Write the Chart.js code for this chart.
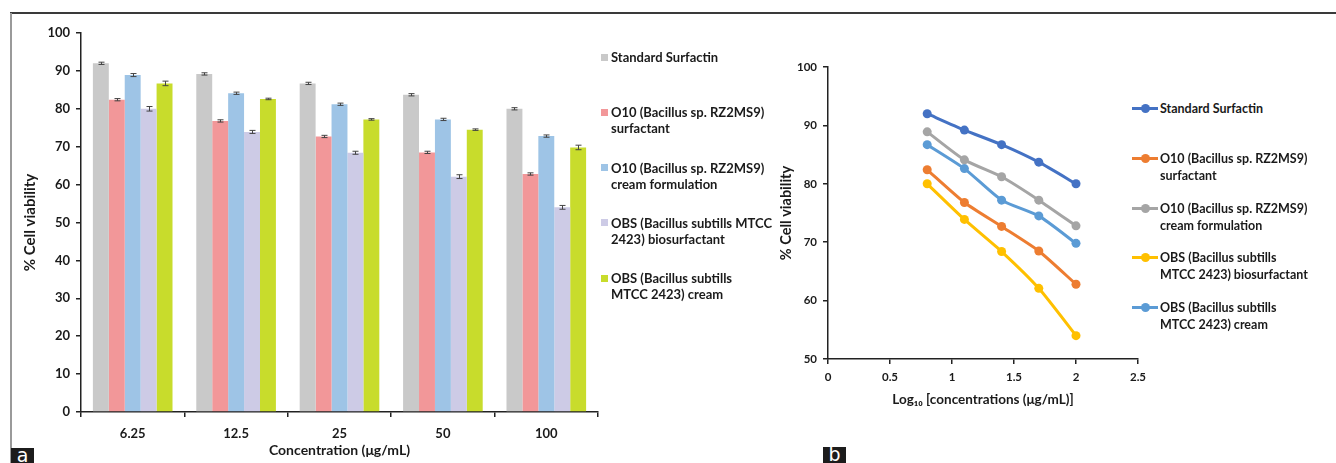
<!DOCTYPE html>
<html>
<head>
<meta charset="utf-8">
<script src="https://cdn.jsdelivr.net/npm/chart.js"></script>
<style>
    body { margin: 0; background: #fff; width: 1336px; height: 463px; overflow: hidden; position: relative; font-family: Lato, "Open Sans", sans-serif; color: #1a1a1a; }
    #wrapA { position: absolute; left: 0; top: 0; width: 620px; height: 463px; }
    #wrapB { position: absolute; left: 760px; top: 0; width: 400px; height: 463px; }
    .frame-top { position: absolute; left: 10px; top: 12px; width: 1326px; height: 2px; background: #3a3a3a; }
    .frame-left { position: absolute; left: 10px; top: 13px; width: 2px; height: 450px; background: #9a9a9a; }
    .tag { position: absolute; width: 23px; height: 16px; background: #1c1c1c; color: #fff; font: 19px "DejaVu Sans", sans-serif; line-height: 14px; text-align: center; overflow: hidden; }
    .leg { position: absolute; font-weight: bold; white-space: nowrap; }
    .leg .sw { position: absolute; width: 7px; height: 7px; }
    .leg .ln { position: absolute; width: 26px; height: 3px; }
    .leg .dot { position: absolute; width: 9px; height: 9px; border-radius: 50%; }
</style>
</head>
<body>
<div class="frame-top"></div>
<div class="frame-left"></div>
<div id="wrapA"><canvas id="barChart"></canvas></div>
<div id="wrapB"><canvas id="lineChart"></canvas></div>
<div class="tag" style="left:11px;top:448px">a</div>
<div class="tag" style="left:823px;top:447px">b</div>
<div id="legendA"></div>
<div id="legendB"></div>

<script>
// Data
const concentrations = ['6.25', '12.5', '25', '50', '100'];
const logConc = [0.80, 1.10, 1.40, 1.70, 2.00];

const seriesNames = [
    'Standard Surfactin',
    'O10 (Bacillus sp. RZ2MS9) surfactant',
    'O10 (Bacillus sp. RZ2MS9) cream formulation',
    'OBS (Bacillus subtills MTCC 2423) biosurfactant',
    'OBS (Bacillus subtills MTCC 2423) cream'
];

const standardSurfactin = [92.0, 89.2, 86.7, 83.7, 80.0];
const o10Surfactant = [82.4, 76.8, 72.7, 68.5, 62.8];
const o10Cream = [88.9, 84.1, 81.2, 77.2, 72.8];
const obsBiosurfactant = [80.0, 73.9, 68.4, 62.1, 54.0];
const obsCream = [86.7, 82.6, 77.2, 74.5, 69.8];

const errStandard = [0.3, 0.3, 0.3, 0.3, 0.3];
const errO10Surf = [0.3, 0.3, 0.3, 0.3, 0.3];
const errO10Cream = [0.4, 0.3, 0.3, 0.3, 0.3];
const errObsBio = [0.6, 0.4, 0.4, 0.5, 0.5];
const errObsCream = [0.6, 0.2, 0.2, 0.2, 0.6];

const yTicksA = { min: 0, max: 100, step: 10 };
const yTicksB = { min: 50, max: 100, step: 10 };
const xTicksB = { min: 0, max: 2.5, step: 0.5 };

// legend line breaks differ between panels
const legendLinesA = [
    ['Standard Surfactin'],
    ['O10 (Bacillus sp. RZ2MS9)', 'surfactant'],
    ['O10 (Bacillus sp. RZ2MS9)', 'cream formulation'],
    ['OBS (Bacillus subtills MTCC', '2423) biosurfactant'],
    ['OBS (Bacillus subtills', 'MTCC 2423) cream']
];
const legendLinesB = [
    ['Standard Surfactin'],
    ['O10 (Bacillus sp. RZ2MS9)', 'surfactant'],
    ['O10 (Bacillus sp. RZ2MS9)', 'cream formulation'],
    ['OBS (Bacillus subtills', 'MTCC 2423) biosurfactant'],
    ['OBS (Bacillus subtills', 'MTCC 2423) cream']
];

const allValues = [standardSurfactin, o10Surfactant, o10Cream, obsBiosurfactant, obsCream];
const allErrors = [errStandard, errO10Surf, errO10Cream, errObsBio, errObsCream];

const barColors = ['#c9c9c9', '#f29799', '#9ec4e6', '#cdcbe6', '#c8dc2c'];
const lineColors = ['#4472c4', '#ed7d31', '#a5a5a5', '#ffc000', '#5b9bd5'];

const FONT = 'Lato, "Open Sans", sans-serif';
const INK = '#1a1a1a';
const AXIS = '#222';

// Error bars drawn on top of the bars
const errorBarPlugin = {
    id: 'errorBars',
    afterDatasetsDraw(chart) {
        const ctx = chart.ctx;
        const yScale = chart.scales.y;
        ctx.save();
        ctx.strokeStyle = '#444';
        ctx.lineWidth = 1;
        chart.data.datasets.forEach((ds, di) => {
            const meta = chart.getDatasetMeta(di);
            meta.data.forEach((bar, i) => {
                const err = ds.errors[i];
                const top = yScale.getPixelForValue(ds.data[i] + err);
                const bot = yScale.getPixelForValue(ds.data[i] - err);
                const x = Math.round(bar.x) + 0.5;
                ctx.beginPath();
                ctx.moveTo(x, top); ctx.lineTo(x, bot);
                ctx.moveTo(x - 3, top); ctx.lineTo(x + 3, top);
                ctx.moveTo(x - 3, bot); ctx.lineTo(x + 3, bot);
                ctx.stroke();
            });
        });
        ctx.restore();
    }
};

function axisStyle() {
    return {
        grid: { drawOnChartArea: false, color: AXIS, tickLength: 5, lineWidth: 1.5 },
        border: { color: AXIS, width: 1.5 }
    };
}

// Panel a: grouped bars
new Chart(document.getElementById('barChart'), {
    type: 'bar',
    data: {
        labels: concentrations,
        datasets: allValues.map((vals, i) => ({
            label: seriesNames[i],
            data: vals,
            errors: allErrors[i],
            backgroundColor: barColors[i],
            categoryPercentage: 0.77,
            barPercentage: 1.0
        }))
    },
    options: {
        responsive: true,
        maintainAspectRatio: false,
        animation: false,
        layout: { padding: { top: 33, right: 22, left: 0, bottom: 0 } },
        plugins: { legend: { display: false }, tooltip: { enabled: false } },
        scales: {
            x: {
                ...axisStyle(),
                ticks: { color: INK, padding: 9, font: { family: FONT, size: 13, weight: 'bold' } },
                title: { display: true, text: 'Concentration (μg/mL)', color: INK, padding: { top: 0, bottom: 4.5 }, font: { family: FONT, size: 14, weight: 'bold' } },
                afterFit(scale) { scale.height = 51; }
            },
            y: {
                ...axisStyle(),
                min: yTicksA.min,
                max: yTicksA.max,
                ticks: { stepSize: yTicksA.step, color: INK, padding: 6, font: { family: FONT, size: 13, weight: 'bold' } },
                title: { display: true, text: '% Cell viability', color: INK, padding: { top: 21, bottom: 0 }, font: { family: FONT, size: 15, weight: 'bold' } },
                afterFit(scale) { scale.width = 81; }
            }
        }
    },
    plugins: [errorBarPlugin]
});

// Panel b: log concentration vs viability
new Chart(document.getElementById('lineChart'), {
    type: 'line',
    data: {
        datasets: allValues.map((vals, i) => ({
            label: seriesNames[i],
            data: vals.map((v, j) => ({ x: logConc[j], y: v })),
            borderColor: lineColors[i],
            backgroundColor: lineColors[i],
            borderWidth: 3,
            pointRadius: 4.5,
            pointBorderWidth: 0,
            tension: 0.2
        }))
    },
    options: {
        responsive: true,
        maintainAspectRatio: false,
        animation: false,
        layout: { padding: { top: 67, right: 22, left: 0, bottom: 54 } },
        plugins: { legend: { display: false }, tooltip: { enabled: false } },
        scales: {
            x: {
                ...axisStyle(),
                type: 'linear',
                min: xTicksB.min,
                max: xTicksB.max,
                ticks: {
                    stepSize: xTicksB.step, color: INK, padding: 6,
                    font: { family: FONT, size: 11.5, weight: 'bold' },
                    callback: v => String(Math.round(v * 10) / 10)
                },
                title: { display: true, text: 'Log₁₀ [concentrations (μg/mL)]', color: INK, padding: { top: 0, bottom: 1 }, font: { family: FONT, size: 13.5, weight: 'bold' } },
                afterFit(scale) { scale.height = 50; }
            },
            y: {
                ...axisStyle(),
                min: yTicksB.min,
                max: yTicksB.max,
                ticks: { stepSize: yTicksB.step, color: INK, padding: 6, font: { family: FONT, size: 11.5, weight: 'bold' } },
                title: { display: true, text: '% Cell viability', color: INK, padding: { top: 18, bottom: 0 }, font: { family: FONT, size: 14.5, weight: 'bold' } },
                afterFit(scale) { scale.width = 68; }
            }
        }
    }
});

// HTML legends
function buildLegend(containerId, lines, opts) {
    const box = document.getElementById(containerId);
    lines.forEach((entry, i) => {
        const el = document.createElement('div');
        el.className = 'leg';
        const top = opts.top + i * opts.step;
        el.style.left = opts.textX + 'px';
        el.style.top = top + 'px';
        el.style.fontSize = opts.size + 'px';
        el.style.lineHeight = opts.lh + 'px';
        el.innerHTML = entry.join('<br>');
        const mid = opts.lh / 2;
        if (opts.kind === 'square') {
            const sw = document.createElement('span');
            sw.className = 'sw';
            sw.style.background = opts.colors[i];
            sw.style.left = (opts.markX - opts.textX) + 'px';
            sw.style.top = (mid - 3.5) + 'px';
            el.appendChild(sw);
        } else {
            const ln = document.createElement('span');
            ln.className = 'ln';
            ln.style.background = opts.colors[i];
            ln.style.left = (opts.markX - opts.textX) + 'px';
            ln.style.top = (mid - 1.5) + 'px';
            const dot = document.createElement('span');
            dot.className = 'dot';
            dot.style.background = opts.colors[i];
            dot.style.left = (opts.markX - opts.textX + 8.5) + 'px';
            dot.style.top = (mid - 4.5) + 'px';
            el.appendChild(ln);
            el.appendChild(dot);
        }
        box.appendChild(el);
    });
}

buildLegend('legendA', legendLinesA, { kind: 'square', colors: barColors, top: 49, step: 55.3, textX: 611, markX: 601, size: 13, lh: 16 });
buildLegend('legendB', legendLinesB, { kind: 'line', colors: lineColors, top: 100, step: 49.8, textX: 1160, markX: 1132, size: 12.5, lh: 17 });
</script>
</body>
</html>
